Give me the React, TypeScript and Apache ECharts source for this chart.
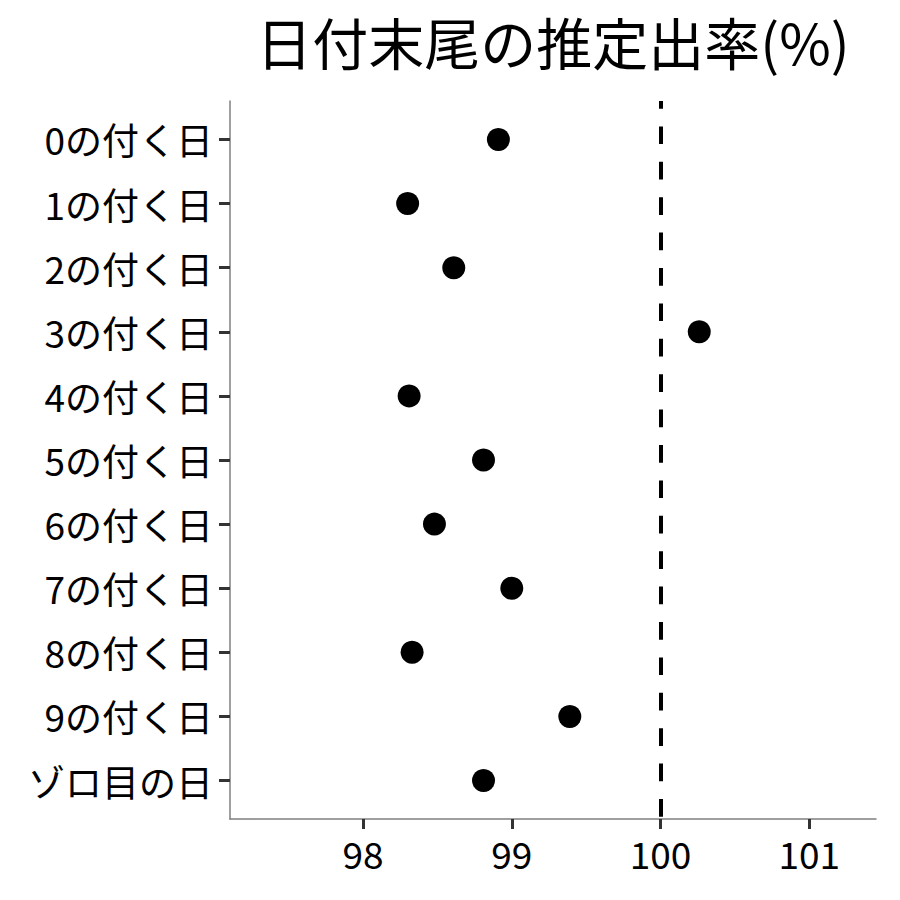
import { useEffect, useRef } from "react";
import * as echarts from "echarts";

const categories = [
  "0の付く日",
  "1の付く日",
  "2の付く日",
  "3の付く日",
  "4の付く日",
  "5の付く日",
  "6の付く日",
  "7の付く日",
  "8の付く日",
  "9の付く日",
  "ゾロ目の日",
];
const rates = [98.91, 98.3, 98.61, 100.26, 98.31, 98.81, 98.48, 99.0, 98.33, 99.39, 98.81];
const xTicks = [98, 99, 100, 101];
const referenceValue = 100;
const titleText = "日付末尾の推定出率(%)";

const FONT = "'Noto Sans CJK JP', 'Noto Sans', sans-serif";

export default function App() {
  const ref = useRef<HTMLDivElement>(null);

  useEffect(() => {
    if (!ref.current) return;
    const chart = echarts.init(ref.current, undefined, { renderer: "svg" });
    const catIdx = categories.map((_, i) => i);
    chart.setOption({
      animation: false,
      backgroundColor: "#ffffff",
      textStyle: { fontFamily: FONT },
      title: {
        text: titleText,
        left: 553,
        top: 12,
        textAlign: "center",
        padding: 0,
        textStyle: {
          fontFamily: FONT,
          fontSize: 56,
          fontWeight: "normal",
          color: "#000000",
          lineHeight: 56,
        },
      },
      grid: { left: 230, right: 24, top: 101, bottom: 81, containLabel: false },
      xAxis: {
        type: "value",
        min: 97.106,
        max: 101.448,
        axisLine: { show: true, onZero: false, lineStyle: { color: "#7f7f7f", width: 1.5 } },
        axisTick: {
          show: true,
          customValues: xTicks,
          length: 10,
          lineStyle: { color: "#333333", width: 3 },
        },
        axisLabel: {
          customValues: xTicks,
          fontSize: 37,
          color: "#000000",
          fontFamily: FONT,
          margin: 15,
        },
        splitLine: { show: false },
      },
      yAxis: {
        type: "value",
        inverse: true,
        min: -0.6,
        max: categories.length - 1 + 0.6,
        axisLine: { show: true, onZero: false, lineStyle: { color: "#7f7f7f", width: 1.5 } },
        axisTick: {
          show: true,
          customValues: catIdx,
          length: 11,
          lineStyle: { color: "#333333", width: 3 },
        },
        axisLabel: {
          customValues: catIdx,
          formatter: (v: number) => categories[Math.round(v)] ?? "",
          fontSize: 37,
          color: "#000000",
          fontFamily: FONT,
          margin: 17,
          padding: [0, 0, 3, 0],
        },
        splitLine: { show: false },
      },
      series: [
        {
          type: "scatter",
          symbol: "circle",
          symbolSize: 23,
          itemStyle: { color: "#000000", opacity: 1 },
          data: rates.map((r, i) => [r, i]),
          z: 3,
          markLine: {
            silent: true,
            symbol: "none",
            label: { show: false },
            lineStyle: {
              color: "#000000",
              width: 4,
              opacity: 1,
              type: [17.7, 17.7],
              dashOffset: 10.4,
            },
            data: [{ xAxis: referenceValue }],
          },
        },
      ],
    });
    return () => chart.dispose();
  }, []);

  return (
    <div
      ref={ref}
      style={{ position: "absolute", left: 0, top: 0, width: 900, height: 900, background: "#fff" }}
    />
  );
}
